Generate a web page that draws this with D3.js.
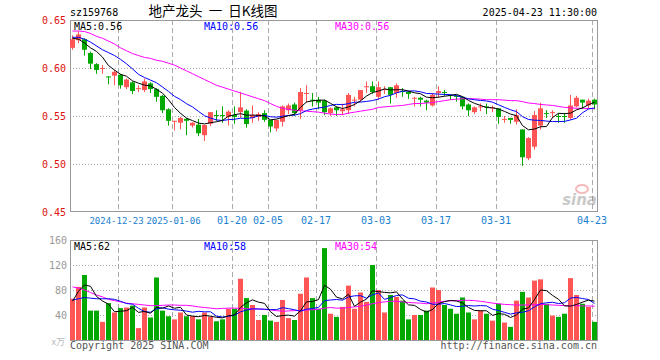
<!DOCTYPE html>
<html><head><meta charset="utf-8">
<script src="https://cdn.jsdelivr.net/npm/d3@7"></script>
<style>body{margin:0;background:#fff}svg{display:block}</style>
</head><body><svg id="c" width="660" height="360"></svg>
<script>
const dates=["2024-12-11","2024-12-12","2024-12-13","2024-12-16","2024-12-17","2024-12-18","2024-12-19","2024-12-20","2024-12-23","2024-12-24","2024-12-25","2024-12-26","2024-12-27","2024-12-30","2024-12-31","2025-01-02","2025-01-03","2025-01-06","2025-01-07","2025-01-08","2025-01-09","2025-01-10","2025-01-13","2025-01-14","2025-01-15","2025-01-16","2025-01-17","2025-01-20","2025-01-21","2025-01-22","2025-01-23","2025-01-24","2025-01-27","2025-02-05","2025-02-06","2025-02-07","2025-02-10","2025-02-11","2025-02-12","2025-02-13","2025-02-14","2025-02-17","2025-02-18","2025-02-19","2025-02-20","2025-02-21","2025-02-24","2025-02-25","2025-02-26","2025-02-27","2025-02-28","2025-03-03","2025-03-04","2025-03-05","2025-03-06","2025-03-07","2025-03-10","2025-03-11","2025-03-12","2025-03-13","2025-03-14","2025-03-17","2025-03-18","2025-03-19","2025-03-20","2025-03-21","2025-03-24","2025-03-25","2025-03-26","2025-03-27","2025-03-28","2025-03-31","2025-04-01","2025-04-02","2025-04-03","2025-04-07","2025-04-08","2025-04-09","2025-04-10","2025-04-11","2025-04-14","2025-04-15","2025-04-16","2025-04-17","2025-04-18","2025-04-21","2025-04-22","2025-04-23"];
const open=[0.621,0.629,0.630,0.6156,0.604,0.599,0.5912,0.592,0.593,0.580,0.585,0.578,0.577,0.584,0.578,0.571,0.557,0.5445,0.543,0.547,0.540,0.541,0.530,0.542,0.551,0.551,0.549,0.551,0.554,0.5556,0.548,0.549,0.553,0.546,0.537,0.544,0.556,0.562,0.556,0.573,0.567,0.567,0.566,0.553,0.559,0.555,0.556,0.566,0.567,0.580,0.581,0.570,0.577,0.580,0.574,0.576,0.575,0.5688,0.569,0.566,0.561,0.574,0.575,0.572,0.571,0.570,0.562,0.554,0.559,0.560,0.558,0.558,0.546,0.548,0.544,0.536,0.506,0.518,0.540,0.553,0.553,0.550,0.550,0.548,0.560,0.567,0.561,0.567];
const high=[0.634,0.638,0.631,0.617,0.605,0.603,0.5912,0.598,0.594,0.589,0.586,0.582,0.589,0.585,0.579,0.572,0.558,0.545,0.549,0.548,0.5435,0.547,0.541,0.554,0.556,0.560,0.556,0.560,0.575,0.557,0.561,0.554,0.556,0.546,0.546,0.561,0.563,0.564,0.579,0.582,0.574,0.570,0.567,0.559,0.560,0.563,0.574,0.570,0.577,0.586,0.586,0.586,0.581,0.580,0.584,0.579,0.576,0.570,0.570,0.567,0.574,0.581,0.577,0.572,0.572,0.570,0.563,0.560,0.563,0.563,0.561,0.558,0.550,0.548,0.557,0.536,0.528,0.555,0.564,0.556,0.556,0.553,0.553,0.572,0.571,0.567,0.568,0.568];
const low=[0.620,0.627,0.614,0.600,0.595,0.595,0.584,0.583,0.5795,0.579,0.574,0.576,0.576,0.575,0.566,0.554,0.541,0.536,0.537,0.531,0.539,0.530,0.525,0.5406,0.546,0.544,0.541,0.543,0.549,0.539,0.544,0.546,0.545,0.534,0.535,0.540,0.553,0.551,0.548,0.565,0.561,0.558,0.552,0.551,0.551,0.552,0.553,0.561,0.566,0.575,0.574,0.568,0.574,0.564,0.570,0.571,0.569,0.561,0.561,0.557,0.561,0.570,0.572,0.568,0.566,0.558,0.551,0.553,0.556,0.553,0.555,0.543,0.544,0.543,0.542,0.499,0.505,0.516,0.537,0.549,0.549,0.544,0.544,0.547,0.560,0.559,0.558,0.558];
const close=[0.630,0.635,0.619,0.6045,0.598,0.600,0.591,0.596,0.582,0.588,0.576,0.579,0.586,0.578,0.570,0.556,0.545,0.545,0.548,0.545,0.543,0.532,0.5406,0.554,0.550,0.5505,0.5545,0.549,0.559,0.5417,0.551,0.552,0.546,0.539,0.546,0.560,0.561,0.553,0.575,0.574,0.566,0.564,0.554,0.558,0.556,0.557,0.572,0.567,0.577,0.581,0.575,0.580,0.578,0.572,0.582,0.575,0.573,0.569,0.567,0.564,0.572,0.576,0.574,0.571,0.570,0.560,0.556,0.559,0.560,0.559,0.559,0.549,0.547,0.546,0.551,0.507,0.527,0.551,0.558,0.552,0.554,0.549,0.549,0.561,0.569,0.564,0.566,0.562];
const ma5=[0.631,0.630,0.626,0.621,0.6173,0.6113,0.6025,0.5979,0.5934,0.5914,0.5866,0.5842,0.5822,0.5814,0.5778,0.5738,0.567,0.5588,0.5528,0.5478,0.5452,0.5426,0.5418,0.543,0.544,0.5454,0.5498,0.5514,0.5524,0.5508,0.551,0.5506,0.550,0.546,0.5468,0.5486,0.5504,0.5518,0.559,0.5646,0.5658,0.5664,0.5666,0.5632,0.5596,0.5578,0.5594,0.562,0.5658,0.5708,0.5744,0.576,0.5782,0.5772,0.5774,0.5774,0.576,0.5742,0.5732,0.5696,0.569,0.5696,0.5706,0.5714,0.5726,0.5702,0.5662,0.5632,0.561,0.5588,0.5586,0.5572,0.5548,0.552,0.5504,0.540,0.5356,0.5364,0.5388,0.539,0.5484,0.5528,0.5524,0.553,0.5564,0.5584,0.5618,0.5644];
const ma10=[0.632,0.632,0.630,0.627,0.623,0.619,0.616,0.613,0.609,0.6044,0.599,0.5934,0.5901,0.5874,0.5846,0.5802,0.5756,0.5705,0.5671,0.5628,0.5595,0.5548,0.5503,0.5479,0.5459,0.5453,0.5462,0.5466,0.5477,0.5474,0.5482,0.5502,0.5507,0.5492,0.5488,0.5498,0.5505,0.5509,0.5525,0.5557,0.5572,0.5584,0.5592,0.5611,0.5621,0.5618,0.5629,0.5643,0.5645,0.5652,0.5661,0.5677,0.5701,0.5715,0.5741,0.5759,0.576,0.5762,0.5752,0.5735,0.5732,0.5728,0.5724,0.5723,0.5711,0.5696,0.5679,0.5669,0.5662,0.5657,0.5644,0.5617,0.559,0.5565,0.5546,0.5493,0.5464,0.5456,0.5454,0.5447,0.5442,0.5442,0.5444,0.5459,0.5477,0.5534,0.5573,0.5584];
const ma30=[0.6385,0.6385,0.638,0.636,0.633,0.631,0.628,0.625,0.621,0.618,0.615,0.613,0.611,0.610,0.608,0.607,0.605,0.603,0.600,0.597,0.594,0.591,0.588,0.585,0.582,0.580,0.578,0.576,0.574,0.572,0.570,0.568,0.566,0.563,0.560,0.558,0.557,0.556,0.5555,0.555,0.5545,0.554,0.553,0.552,0.5515,0.5515,0.553,0.554,0.555,0.556,0.557,0.559,0.5595,0.560,0.5605,0.561,0.562,0.563,0.563,0.5635,0.564,0.565,0.566,0.567,0.5675,0.568,0.568,0.568,0.5675,0.567,0.567,0.567,0.5665,0.566,0.566,0.565,0.5635,0.563,0.562,0.5615,0.561,0.560,0.559,0.5585,0.558,0.558,0.5578,0.5576];
const volume=[66,85,104,47,47,29,59,44,51,52,55,19,52,36,100,47,38,33,44,38,38,33,44,37,30,33,50,50,98,67,56,32,40,31,29,64,35,32,74,100,67,50,147,42,37,53,87,50,76,61,120,80,44,72,69,63,33,40,40,47,84,80,56,50,42,68,44,33,47,42,31,58,28,21,63,77,68,95,97,58,39,37,42,99,72,58,53,29];
const vma5=[62,78,88,86,69.8,62.4,57.2,45.2,46,47,52.2,44.2,45.8,42.8,52.4,50.8,54.6,50.8,52.4,40,38.2,37.2,39.4,38,36.4,35.4,38.8,40,52.2,59.6,64.2,60.6,58.6,45.2,37.6,39.2,39.8,38.2,46.8,61,61.6,64.6,87.6,81.2,68.6,65.8,73.2,53.8,60.6,65.4,78.8,77.4,76.2,75.4,77,65.6,56.2,55.4,49,44.6,48.8,58.2,61.4,63.4,62.4,59.2,52,47.4,46.8,46.8,39.4,42.2,41.2,36,40.2,49.4,51.4,64.8,80,79,71.4,65.2,54.6,54.2,56.8,60.6,63.8,62.2];
const vma10=[64,66,68,67,66,66,66,65,62,58.4,57.3,50.7,45.5,44.4,49.7,51.5,49.4,48.3,47.6,46.2,44.5,45.9,45.1,45.2,38.2,36.8,38,39.7,45.1,48,49.8,49.7,49.3,48.7,48.6,51.7,50.2,48.4,46,49.3,50.4,52.2,62.9,64,64.8,63.7,68.9,70.7,70.9,67,72.3,75.3,65,68,71.2,72.2,66.8,65.8,62.2,60.8,57.2,57.2,58.4,56.2,53.5,54,55.1,54.4,55.1,54.6,49.3,47.1,44.3,41.4,43.5,44.4,46.8,53,58,59.6,60.4,58.3,59.7,67.1,68.2,66.3,64.8,58.4];
const vma30=[85,83,80,76,72,69,65,63,61,59,58,57,56,55,55,55.5,56,56,55.5,55.5,54.5,53,52,51,50,50.5,51,51,50.5,50,50,49.5,49,48,47,46,46.5,47,47.5,48,48.5,49,51,52,51,51,52,53,54,56,58,60,61,62,62,61,60,59.5,59,58,59,60.5,62,62.5,63,63.5,63.5,63,62,60.5,59,58,57,56.5,56,56,56,56.5,57,56.5,56,55.5,55,55,55,54.5,54.5,54];
const priceTicks=[0.45,0.50,0.55,0.60,0.65];
const volTicks=[40,80,120,160];
const tickIdx=[8,17,27,33,41,51,61,71,87];
const tickLabels=["2024-12-23","2025-01-06","01-20","02-05","02-17","03-03","03-17","03-31","04-23"];

const svg=d3.select("#c");
const mono="'DejaVu Sans Mono', monospace";
const RED="#ff5555", GREEN="#00a800";
const L=70, R=597;
const x=d3.scaleLinear().domain([0,dates.length]).range([L,L+6*dates.length]);
const y=d3.scaleLinear().domain([0.45,0.65]).range([212,20]);
const yv=d3.scaleLinear().domain([0,160]).range([340,240]);
const isUp=i=>close[i]>=open[i];

// header
svg.append("text").attr("x",70).attr("y",16).attr("font-family",mono).attr("font-size",10).text("sz159768");
svg.append("text").attr("x",213).attr("y",16).attr("text-anchor","middle").attr("font-family","'Noto Sans CJK SC',sans-serif").attr("font-size",13.5).text("地产龙头\u00a0\u00a0一\u00a0\u00a0日K线图");
svg.append("text").attr("x",597).attr("y",16).attr("text-anchor","end").attr("font-family",mono).attr("font-size",10).text("2025-04-23 11:30:00");

function panel(top,bot,ys,gridTicks){
  const g=svg.append("g");
  g.selectAll("line.h").data(gridTicks).join("line")
    .attr("x1",L).attr("x2",R).attr("y1",d=>Math.round(ys(d))+0.5).attr("y2",d=>Math.round(ys(d))+0.5)
    .attr("stroke","#aaa").attr("stroke-dasharray","1,2");
  g.selectAll("line.v").data(tickIdx).join("line")
    .attr("x1",d=>x(d)+0.5).attr("x2",d=>x(d)+0.5).attr("y1",top).attr("y2",bot)
    .attr("stroke","#aaa").attr("stroke-dasharray","5,3");
  g.append("rect").attr("x",L+0.5).attr("y",top+0.5).attr("width",R-L).attr("height",bot-top)
    .attr("fill","none").attr("stroke","#999");
  return g;
}
panel(20,211,y,[0.50,0.55,0.60]);
panel(240,340,yv,[40,80,120]);

// axis labels
svg.selectAll("text.pt").data(priceTicks).join("text").attr("class","pt")
  .attr("x",66).attr("y",d=>y(d)+4).attr("text-anchor","end").attr("font-family",mono).attr("font-size",10)
  .attr("fill","#e01010").text(d=>d.toFixed(2));
svg.selectAll("text.vt").data(volTicks).join("text").attr("class","vt")
  .attr("x",67).attr("y",d=>yv(d)+4).attr("text-anchor","end").attr("font-family",mono).attr("font-size",10)
  .attr("fill","#999").text(d=>d);
svg.append("text").attr("x",65).attr("y",345).attr("text-anchor","end").attr("font-family","'Noto Sans CJK SC',sans-serif").attr("font-size",9).attr("fill","#bbb").text("x万");

// date labels (the two long labels sit edge to edge, as in the reference)
svg.selectAll("text.dt").data(tickIdx).join("text").attr("class","dt")
  .attr("x",(d,i)=>x(d)+(i===0?-1.5:i===1?1.5:0)).attr("y",224).attr("text-anchor","middle").attr("font-family",mono)
  .attr("font-size",(d,i)=>tickLabels[i].length>5?9:10)
  .attr("fill","#1a80d0")
  .text((d,i)=>tickLabels[i]);

// watermark
const wm=svg.append("g").attr("opacity",0.35);
wm.append("ellipse").attr("cx",582).attr("cy",189).attr("rx",6).attr("ry",4).attr("fill","none").attr("stroke","#e04040").attr("stroke-width",2);
wm.append("text").attr("x",597).attr("y",205).attr("text-anchor","end").attr("font-family","'DejaVu Sans',sans-serif").attr("font-style","italic").attr("font-weight","bold").attr("font-size",15).attr("fill","#666").text("sina");

// candles
const idx=d3.range(dates.length);
const cg=svg.append("g");
cg.selectAll("line.w").data(idx).join("line")
  .attr("x1",i=>x(i)+2.5).attr("x2",i=>x(i)+2.5)
  .attr("y1",i=>y(high[i])).attr("y2",i=>y(low[i])+1)
  .attr("stroke",i=>isUp(i)?RED:GREEN);
cg.selectAll("rect.b").data(idx).join("rect")
  .attr("x",i=>x(i)).attr("width",5)
  .attr("y",i=>y(Math.max(open[i],close[i])))
  .attr("height",i=>Math.max(1,Math.abs(y(open[i])-y(close[i]))))
  .attr("fill",i=>isUp(i)?RED:GREEN);

const line=(ys,arr)=>d3.line().x((d,i)=>x(i)+2.5).y(d=>ys(d))(arr);
[[ma30,"#ff00ff"],[ma10,"#0000ff"],[ma5,"#000"]].forEach(([a,c])=>
  svg.append("path").attr("d",line(y,a)).attr("fill","none").attr("stroke",c).attr("stroke-width",1));

// volume
svg.append("g").selectAll("rect").data(idx).join("rect")
  .attr("x",i=>x(i)).attr("width",5)
  .attr("y",i=>yv(volume[i])).attr("height",i=>yv(0)-yv(volume[i]))
  .attr("fill",i=>isUp(i)?RED:GREEN);
[[vma30,"#ff00ff"],[vma10,"#0000ff"],[vma5,"#000"]].forEach(([a,c])=>
  svg.append("path").attr("d",line(yv,a)).attr("fill","none").attr("stroke",c).attr("stroke-width",1));

// MA labels
const lab=(xx,yy,t,c)=>svg.append("text").attr("x",xx).attr("y",yy).attr("font-family",mono).attr("font-size",10).attr("fill",c).text(t);
lab(74,30,"MA5:0.56","#000"); lab(204,30,"MA10:0.56","#0000ff"); lab(335,30,"MA30:0.56","#ff00ff");
lab(74,250,"MA5:62","#000"); lab(204,250,"MA10:58","#0000ff"); lab(335,250,"MA30:54","#ff00ff");

// footer
svg.append("text").attr("x",70).attr("y",349).attr("font-family",mono).attr("font-size",10).attr("fill","#555").text("Copyright 2025 SINA.COM");
svg.append("text").attr("x",597).attr("y",349).attr("text-anchor","end").attr("font-family",mono).attr("font-size",10).attr("fill","#555").text("http://finance.sina.com.cn");
</script></body></html>
